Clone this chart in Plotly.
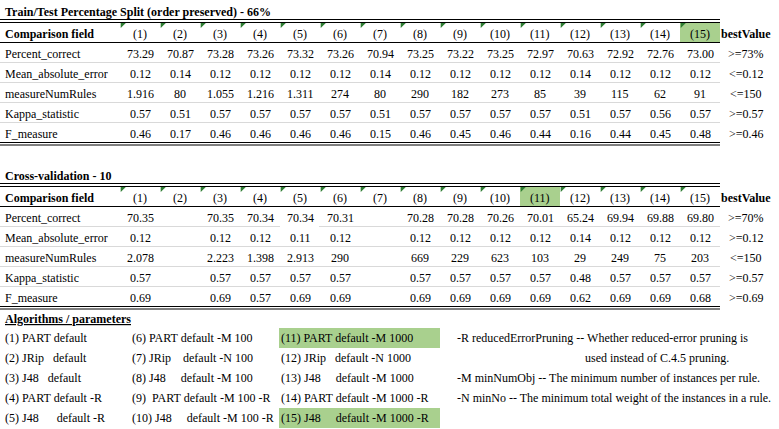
import plotly.graph_objects as go

FONT = "'Liberation Serif', 'Times New Roman', 'DejaVu Serif', serif"
GREEN = "#a9d08e"
MARK = "#2e7d32"
GRID = "#d9d9d9"

columns = [f"({i})" for i in range(1, 16)]
fields = ["Percent_correct", "Mean_absolute_error", "measureNumRules",
          "Kappa_statistic", "F_measure"]

# train/test split results
split_title = "Train/Test Percentage Split (order preserved) - 66%"
split_percent = [73.29, 70.87, 73.28, 73.26, 73.32, 73.26, 70.94, 73.25,
                 73.22, 73.25, 72.97, 70.63, 72.92, 72.76, 73.00]
split_mae = [0.12, 0.14, 0.12, 0.12, 0.12, 0.12, 0.14, 0.12,
             0.12, 0.12, 0.12, 0.14, 0.12, 0.12, 0.12]
split_rules = [1916, 80, 1055, 1216, 1311, 274, 80, 290,
               182, 273, 85, 39, 115, 62, 91]
split_kappa = [0.57, 0.51, 0.57, 0.57, 0.57, 0.57, 0.51, 0.57,
               0.57, 0.57, 0.57, 0.51, 0.57, 0.56, 0.57]
split_fmeasure = [0.46, 0.17, 0.46, 0.46, 0.46, 0.46, 0.15, 0.46,
                  0.45, 0.46, 0.44, 0.16, 0.44, 0.45, 0.48]
split_best = [">=73%", "<=0.12", "<=150", ">=0.57", ">=0.46"]
split_highlight = 15

# cross-validation results (None = empty cell)
cv_title = "Cross-validation - 10"
cv_percent = [70.35, None, 70.35, 70.34, 70.34, 70.31, None, 70.28,
              70.28, 70.26, 70.01, 65.24, 69.94, 69.88, 69.80]
cv_mae = [0.12, None, 0.12, 0.12, 0.11, 0.12, None, 0.12,
          0.12, 0.12, 0.12, 0.14, 0.12, 0.12, 0.12]
cv_rules = [2078, None, 2223, 1398, 2913, 290, None, 669,
            229, 623, 103, 29, 249, 75, 203]
cv_kappa = [0.57, None, 0.57, 0.57, 0.57, 0.57, None, 0.57,
            0.57, 0.57, 0.57, 0.48, 0.57, 0.57, 0.57]
cv_fmeasure = [0.69, None, 0.69, 0.57, 0.69, 0.69, None, 0.69,
               0.69, 0.69, 0.69, 0.62, 0.69, 0.69, 0.68]
cv_best = [">=70%", ">=0.12", "<=150", ">=0.57", ">=0.69"]
cv_highlight = 11

NB = "\u00a0"
algos_title = "Algorithms / parameters"
algos_col1 = ["(1) PART default", "(2) JRip" + NB * 3 + "default",
              "(3) J48" + NB * 3 + "default", "(4) PART default -R",
              "(5) J48" + NB * 6 + "default -R"]
algos_col2 = ["(6) PART default -M 100", "(7) JRip" + NB * 4 + "default -N 100",
              "(8) J48" + NB * 5 + "default -M 100",
              "(9)" + NB * 2 + "PART default -M 100 -R",
              "(10) J48" + NB * 5 + "default -M 100 -R"]
algos_col3 = ["(11) PART default -M 1000", "(12) JRip" + NB * 3 + "default -N 1000",
              "(13) J48" + NB * 5 + "default -M 1000",
              "(14) PART default -M 1000 -R",
              "(15) J48" + NB * 5 + "default -M 1000 -R"]
algos_highlight = [0, 4]  # rows of column 3 in green
notes = ["-R reducedErrorPruning -- Whether reduced-error pruning is",
         "used instead of C.4.5 pruning.",
         "-M minNumObj -- The minimum number of instances per rule.",
         "-N minNo -- The minimum total weight of the instances in a rule."]


def fmt2(v):
    return "" if v is None else f"{v:.2f}"


def fmt_int(v):
    return "" if v is None else f"{v:,}".replace(",", ".")


W, H = 779, 429
COL0, COLW, RIGHT, BEST_X, ROWH = 120, 40, 720, 746, 20

fig = go.Figure()
shapes = []
annotations = []


def text(x, y, s, anchor="center", size=12, bold=False):
    if bold:
        s = f"<b>{s}</b>"
    annotations.append(dict(x=x, y=y, xref="x", yref="y", text=s, showarrow=False,
                            xanchor=anchor, yanchor="middle",
                            font=dict(family=FONT, size=size, color="black")))


def hline(y, x0=0, x1=RIGHT, color="black", width=1):
    shapes.append(dict(type="line", xref="x", yref="y", x0=x0, x1=x1, y0=y, y1=y,
                       line=dict(color=color, width=width)))


def box(x0, x1, y0, y1):
    shapes.append(dict(type="rect", xref="x", yref="y", x0=x0, x1=x1, y0=y0, y1=y1,
                       fillcolor=GREEN, line=dict(width=0), layer="below"))


def draw_table(top, title, rows, best, highlight, gaps=()):
    text(3, top - 10, title, anchor="left", bold=True)
    hline(top - 2.5)
    hline(top + 0.5)
    hx = COL0 + COLW * (highlight - 1)
    box(hx, hx + COLW, top, top + ROWH)
    text(3, top + 12, "Comparison field", anchor="left", bold=True)
    for i, c in enumerate(columns):
        text(COL0 + COLW * i + COLW / 2, top + 12, c)
    text(BEST_X, top + 12, "bestValue", bold=True)
    hline(top + ROWH + 0.5)
    # green corner markers on the header cells
    fig.add_trace(go.Scatter(
        x=[COL0 + COLW * i + 2.5 for i in range(len(columns))],
        y=[top + 2.5] * len(columns), mode="markers", hoverinfo="skip",
        marker=dict(symbol="triangle-nw", size=6, color=MARK, line=dict(width=0))))
    for j, (name, vals) in enumerate(zip(fields, rows)):
        yc = top + ROWH * (j + 1) + 12
        text(3, yc, name, anchor="left")
        f = fmt_int if name == "measureNumRules" else fmt2
        for i, v in enumerate(vals):
            text(COL0 + COLW * i + COLW / 2, yc, f(v))
        text(BEST_X, yc, best[j])
        if j < len(rows) - 1:
            yl = top + ROWH * (j + 2) + 0.5
            xs = [0] + [g for gap in gaps if gap[0] == j for g in gap[1:]] + [RIGHT]
            for k in range(0, len(xs), 2):
                hline(yl, xs[k], xs[k + 1], color=GRID)
    hline(top + ROWH * 6 + 0.5)
    hline(top + ROWH * 6 + 3)


draw_table(22, split_title,
           [split_percent, split_mae, split_rules, split_kappa, split_fmeasure],
           split_best, split_highlight)
draw_table(186, cv_title,
           [cv_percent, cv_mae, cv_rules, cv_kappa, cv_fmeasure],
           cv_best, cv_highlight, gaps=[(0, 280, 319)])

# algorithm legend
text(3, 319, f"<u><b>{algos_title}</b></u>", anchor="left")
for k in algos_highlight:
    box(279, 440, 328 + ROWH * k, 348 + ROWH * k)
for k in range(5):
    yc = 338 + ROWH * k
    text(3, yc, algos_col1[k], anchor="left")
    text(130, yc, algos_col2[k], anchor="left")
    text(279, yc, algos_col3[k], anchor="left")
for k, note in enumerate(notes):
    text(583 if k == 1 else 455, 338 + ROWH * k, note, anchor="left")

fig.update_layout(
    width=W, height=H, margin=dict(l=0, r=0, t=0, b=0),
    paper_bgcolor="white", plot_bgcolor="white", showlegend=False,
    xaxis=dict(range=[0, W], visible=False, fixedrange=True),
    yaxis=dict(range=[H, 0], visible=False, fixedrange=True),
    shapes=shapes, annotations=annotations,
)

# the page's default body margin would shift the figure by 8px
fig.write_html("out.html", config={"displayModeBar": False},
               post_script="document.body.style.margin='0';")
